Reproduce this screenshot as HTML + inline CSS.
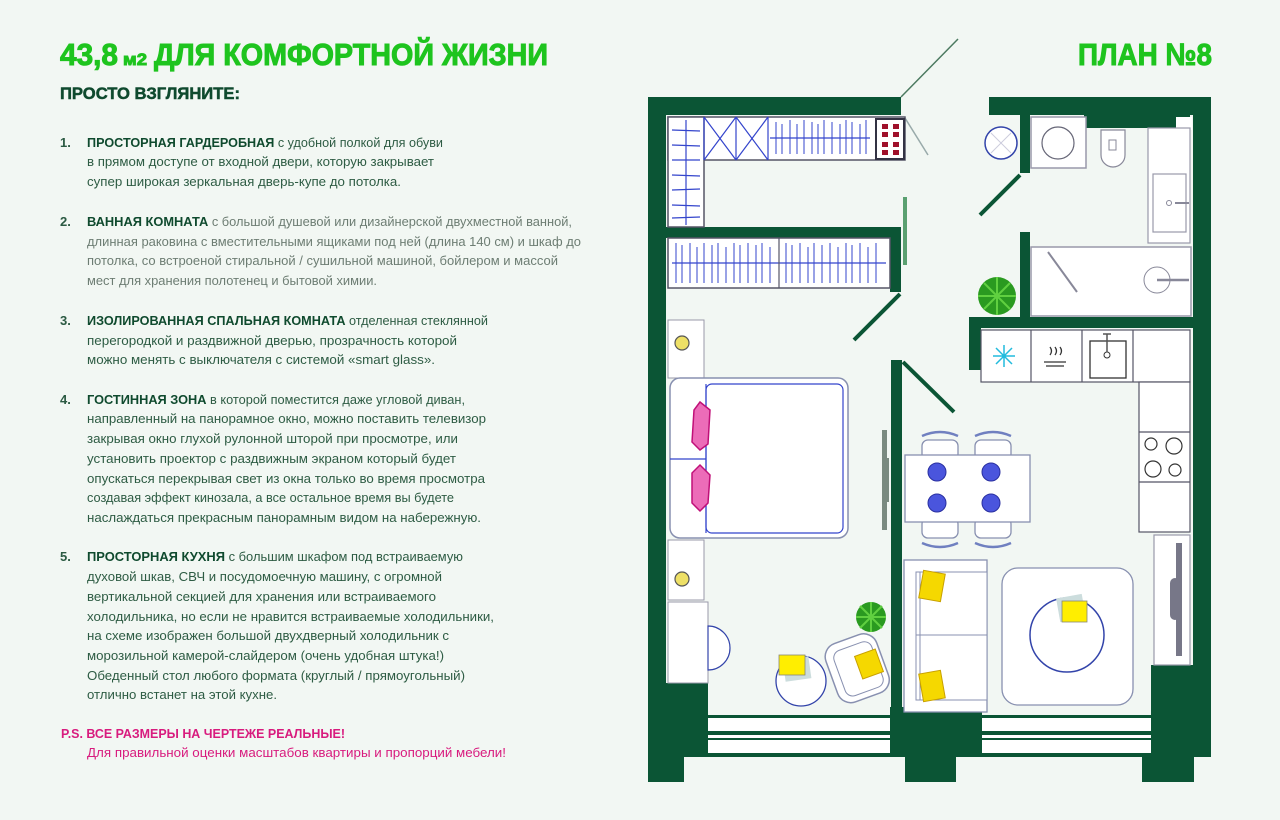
<!DOCTYPE html>
<html><head><meta charset="utf-8"><style>
html,body{margin:0;padding:0;background:#f2f7f3;}
svg{display:block}
</style></head><body>
<svg width="1280" height="820" viewBox="0 0 1280 820" xmlns="http://www.w3.org/2000/svg" font-family="'Liberation Sans', sans-serif">
<rect width="1280" height="820" fill="#f2f7f3"/>
<!-- TEXT -->
<g font-weight="bold" fill="#1ec41e" stroke="#1ec41e" stroke-width="1">
<text x="60" y="65" font-size="31" textLength="58" lengthAdjust="spacingAndGlyphs">43,8</text>
<text x="123" y="65" font-size="17" textLength="24" lengthAdjust="spacingAndGlyphs">м2</text>
<text x="154" y="65" font-size="31" textLength="394" lengthAdjust="spacingAndGlyphs">ДЛЯ КОМФОРТНОЙ ЖИЗНИ</text>
<text x="1078" y="65" font-size="31" textLength="134" lengthAdjust="spacingAndGlyphs">ПЛАН №8</text>
</g>
<text x="60" y="99" font-size="17" font-weight="bold" fill="#0f4a2e" stroke="#0f4a2e" stroke-width="0.5" textLength="180" lengthAdjust="spacingAndGlyphs">ПРОСТО ВЗГЛЯНИТЕ:</text>
<g font-size="13" fill="#2b5a42" font-weight="bold">
<text x="60" y="147">1.</text><text x="60" y="226">2.</text><text x="60" y="325">3.</text><text x="60" y="404">4.</text><text x="60" y="561">5.</text>
</g>
<g font-size="13" fill="#2e5c44">
<text x="87" y="147" textLength="356" lengthAdjust="spacingAndGlyphs"><tspan font-weight="bold" fill="#0f4a2e">ПРОСТОРНАЯ ГАРДЕРОБНАЯ</tspan> с удобной полкой для обуви</text>
<text x="87" y="166" textLength="347" lengthAdjust="spacingAndGlyphs">в прямом доступе от входной двери, которую закрывает</text>
<text x="87" y="186" textLength="314" lengthAdjust="spacingAndGlyphs">супер широкая зеркальная дверь-купе до потолка.</text>
</g>
<g font-size="13" fill="#6d7d73">
<text x="87" y="226" textLength="485" lengthAdjust="spacingAndGlyphs"><tspan font-weight="bold" fill="#0f4a2e">ВАННАЯ КОМНАТА</tspan> с большой душевой или дизайнерской двухместной ванной,</text>
<text x="87" y="246" textLength="494" lengthAdjust="spacingAndGlyphs">длинная раковина с вместительными ящиками под ней (длина 140 см) и шкаф до</text>
<text x="87" y="265" textLength="471" lengthAdjust="spacingAndGlyphs">потолка, со встроеной стиральной / сушильной машиной, бойлером и массой</text>
<text x="87" y="285" textLength="290" lengthAdjust="spacingAndGlyphs">мест для хранения полотенец и бытовой химии.</text>
</g>
<g font-size="13" fill="#2e5c44">
<text x="87" y="325" textLength="401" lengthAdjust="spacingAndGlyphs"><tspan font-weight="bold" fill="#0f4a2e">ИЗОЛИРОВАННАЯ СПАЛЬНАЯ КОМНАТА</tspan> отделенная стеклянной</text>
<text x="87" y="345" textLength="370" lengthAdjust="spacingAndGlyphs">перегородкой и раздвижной дверью, прозрачность которой</text>
<text x="87" y="364" textLength="348" lengthAdjust="spacingAndGlyphs">можно менять с выключателя с системой «smart glass».</text>
<text x="87" y="404" textLength="378" lengthAdjust="spacingAndGlyphs"><tspan font-weight="bold" fill="#0f4a2e">ГОСТИННАЯ ЗОНА</tspan> в которой поместится даже угловой диван,</text>
<text x="87" y="423" textLength="399" lengthAdjust="spacingAndGlyphs">направленный на панорамное окно, можно поставить телевизор</text>
<text x="87" y="443" textLength="371" lengthAdjust="spacingAndGlyphs">закрывая окно глухой рулонной шторой при просмотре, или</text>
<text x="87" y="463" textLength="369" lengthAdjust="spacingAndGlyphs">установить проектор с раздвижным экраном который будет</text>
<text x="87" y="483" textLength="398" lengthAdjust="spacingAndGlyphs">опускаться перекрывая свет из окна только во время просмотра</text>
<text x="87" y="502" textLength="367" lengthAdjust="spacingAndGlyphs">создавая эффект кинозала, а все остальное время вы будете</text>
<text x="87" y="522" textLength="394" lengthAdjust="spacingAndGlyphs">наслаждаться прекрасным панорамным видом на набережную.</text>
<text x="87" y="561" textLength="376" lengthAdjust="spacingAndGlyphs"><tspan font-weight="bold" fill="#0f4a2e">ПРОСТОРНАЯ КУХНЯ</tspan> с большим шкафом под встраиваемую</text>
<text x="87" y="581" textLength="355" lengthAdjust="spacingAndGlyphs">духовой шкав, СВЧ и посудомоечную машину, с огромной</text>
<text x="87" y="601" textLength="349" lengthAdjust="spacingAndGlyphs">вертикальной секцией для хранения или встраиваемого</text>
<text x="87" y="621" textLength="407" lengthAdjust="spacingAndGlyphs">холодильника, но если не нравится встраиваемые холодильники,</text>
<text x="87" y="640" textLength="362" lengthAdjust="spacingAndGlyphs">на схеме изображен большой двухдверный холодильник с</text>
<text x="87" y="660" textLength="357" lengthAdjust="spacingAndGlyphs">морозильной камерой-слайдером (очень удобная штука!)</text>
<text x="87" y="680" textLength="378" lengthAdjust="spacingAndGlyphs">Обеденный стол любого формата (круглый / прямоугольный)</text>
<text x="87" y="699" textLength="190" lengthAdjust="spacingAndGlyphs">отлично встанет на этой кухне.</text>
</g>
<text x="61" y="738" font-size="13" font-weight="bold" fill="#d81b7e" textLength="284" lengthAdjust="spacingAndGlyphs">P.S. ВСЕ РАЗМЕРЫ НА ЧЕРТЕЖЕ РЕАЛЬНЫЕ!</text>
<text x="87" y="757" font-size="13" fill="#d81b7e" textLength="419" lengthAdjust="spacingAndGlyphs">Для правильной оценки масштабов квартиры и пропорций мебели!</text>

<!-- PLAN -->
<g fill="#0b5535">
<rect x="648" y="97" width="18" height="685"/>
<rect x="648" y="97" width="253" height="18"/>
<rect x="989" y="97" width="222" height="18"/>
<rect x="1084" y="97" width="106" height="31"/>
<rect x="1193" y="97" width="18" height="660"/>
<rect x="1020" y="97" width="10" height="76"/>
<rect x="1020" y="232" width="10" height="85"/>
<rect x="969" y="317" width="242" height="11"/>
<rect x="969" y="317" width="12" height="53"/>
<rect x="666" y="227" width="235" height="11"/>
<rect x="890" y="227" width="11" height="65"/>
<rect x="891" y="360" width="11" height="350"/>
<rect x="890" y="707" width="92" height="50"/>
<rect x="905" y="757" width="51" height="25"/>
<rect x="648" y="683" width="60" height="74"/>
<rect x="648" y="757" width="36" height="25"/>
<rect x="1151" y="665" width="60" height="92"/>
<rect x="1142" y="757" width="52" height="25"/>
<rect x="708" y="715" width="182" height="42"/>
<rect x="982" y="715" width="169" height="42"/>
</g>
<rect x="1176" y="117" width="16" height="13" fill="#fff"/>
<g fill="#fff">
<rect x="708" y="718" width="182" height="13"/><rect x="708" y="735" width="182" height="3"/><rect x="708" y="740" width="182" height="13"/>
<rect x="982" y="718" width="169" height="13"/><rect x="982" y="735" width="169" height="3"/><rect x="982" y="740" width="169" height="13"/>
</g>
<!-- doors -->
<g stroke="#0b5535" stroke-width="4">
<line x1="1020" y1="175" x2="980" y2="215"/>
<line x1="900" y1="294" x2="854" y2="340"/>
<line x1="903" y1="362" x2="954" y2="412"/>
</g>
<line x1="901" y1="97" x2="958" y2="39" stroke="#4c7a60" stroke-width="1.5"/>
<line x1="905" y1="118" x2="928" y2="155" stroke="#9aa" stroke-width="1.5"/>
<rect x="903" y="197" width="4" height="68" fill="#5aa070"/>
<!-- wardrobe -->
<g fill="#fff" stroke="#556" stroke-width="1.5">
<rect x="668" y="117" width="237" height="43"/>
<rect x="668" y="117" width="36" height="110"/>
<rect x="668" y="238" width="222" height="50"/>
</g>
<g stroke="#3344cc" stroke-width="1.2">
<line x1="704" y1="117" x2="704" y2="160"/><line x1="736" y1="117" x2="736" y2="160"/><line x1="768" y1="117" x2="768" y2="160"/>
<line x1="704" y1="117" x2="736" y2="160"/><line x1="736" y1="117" x2="704" y2="160"/>
<line x1="736" y1="117" x2="768" y2="160"/><line x1="768" y1="117" x2="736" y2="160"/>
<line x1="672" y1="130" x2="700" y2="131"/><line x1="672" y1="145" x2="700" y2="146"/><line x1="672" y1="160" x2="700" y2="160"/><line x1="672" y1="175" x2="700" y2="176"/><line x1="672" y1="190" x2="700" y2="189"/><line x1="672" y1="205" x2="700" y2="206"/><line x1="672" y1="218" x2="700" y2="217"/>
<line x1="686" y1="120" x2="686" y2="225"/>
<line x1="770" y1="138" x2="870" y2="138"/>
<line x1="672" y1="263" x2="886" y2="263"/>
<line x1="779" y1="238" x2="779" y2="288" stroke="#556"/>
</g>
<g stroke="#3344cc" stroke-width="1">
<path d="M776 122v32M782 124v30M790 120v34M797 124v30M804 120v34M812 122v32M818 124v30M824 120v34M832 122v32M840 124v30M846 120v34M852 122v32M860 124v30M866 120v34"/>
<path d="M676 243v40M682 245v38M690 243v40M697 247v36M704 243v40M712 245v38M718 243v40M726 247v36M734 243v40M740 245v38M748 243v40M756 245v38M762 243v40M770 247v36M786 243v40M792 245v38M800 243v40M808 247v36M814 243v40M822 245v38M830 243v40M838 247v36M846 243v40M852 245v38M860 243v40M868 247v36M876 243v40"/>
</g>
<rect x="876" y="119" width="28" height="40" fill="#fff" stroke="#334" stroke-width="2"/>
<g fill="#a0102a"><rect x="882" y="124" width="6" height="5"/><rect x="893" y="124" width="6" height="5"/><rect x="882" y="132" width="6" height="5"/><rect x="893" y="132" width="6" height="5"/><rect x="882" y="142" width="6" height="5"/><rect x="893" y="142" width="6" height="5"/><rect x="882" y="150" width="6" height="5"/><rect x="893" y="150" width="6" height="5"/></g>
<!-- bathroom -->
<circle cx="1001" cy="143" r="16" fill="#fff" stroke="#3344aa" stroke-width="1.5"/>
<path d="M991 133l20 20M1011 133l-20 20" stroke="#ccd" stroke-width="1"/>
<rect x="1031" y="117" width="55" height="51" fill="#fff" stroke="#99a" stroke-width="1.5"/>
<circle cx="1058" cy="143" r="16" fill="#fff" stroke="#667" stroke-width="1.2"/>
<path d="M1101 130h24v25a12 12 0 0 1 -24 0z" fill="#fff" stroke="#889" stroke-width="1.2"/>
<rect x="1109" y="140" width="7" height="10" fill="none" stroke="#889"/>
<rect x="1148" y="128" width="42" height="115" fill="#fff" stroke="#99a" stroke-width="1.2"/>
<rect x="1153" y="174" width="33" height="58" fill="#fff" stroke="#99a" stroke-width="1.2"/>
<circle cx="1169" cy="203" r="2.5" fill="none" stroke="#889"/><line x1="1175" y1="203" x2="1189" y2="203" stroke="#889" stroke-width="2"/>
<rect x="1031" y="247" width="160" height="69" fill="#fff" stroke="#99a" stroke-width="1.5"/>
<line x1="1048" y1="252" x2="1077" y2="292" stroke="#889" stroke-width="2"/>
<circle cx="1157" cy="280" r="13" fill="#fff" stroke="#889"/><line x1="1157" y1="280" x2="1189" y2="280" stroke="#889" stroke-width="2.5"/>
<g fill="#2a9a20"><circle cx="997" cy="296" r="19"/></g>
<g stroke="#60d040" stroke-width="2"><path d="M997 277v38M978 296h38M984 283l26 26M1010 283l-26 26"/></g>
<!-- kitchen -->
<rect x="981" y="330" width="209" height="52" fill="#fff" stroke="#556" stroke-width="1.2"/>
<path d="M1031 330v52M1082 330v52M1133 330v52" stroke="#556" stroke-width="1.2"/>
<path d="M993 356h22M1004 345v22M996 348l16 16M1012 348l-16 16" stroke="#22bbdd" stroke-width="1.5"/>
<path d="M1044 362h22M1046 366h18M1050 355q3-4 0-8M1055 355q3-4 0-8M1060 355q3-4 0-8" stroke="#333" stroke-width="1.3" fill="none"/>
<rect x="1090" y="341" width="36" height="37" fill="none" stroke="#333" stroke-width="1.3"/>
<circle cx="1107" cy="355" r="3" fill="none" stroke="#333"/><path d="M1107 334v18M1103 334h8" stroke="#555" stroke-width="1.5"/>
<rect x="1139" y="382" width="51" height="150" fill="#fff" stroke="#556" stroke-width="1.2"/>
<path d="M1139 432h51M1139 482h51" stroke="#556" stroke-width="1.2"/>
<g fill="none" stroke="#333" stroke-width="1.2"><circle cx="1151" cy="444" r="6"/><circle cx="1174" cy="446" r="8"/><circle cx="1153" cy="469" r="8"/><circle cx="1175" cy="470" r="6"/></g>
<rect x="1154" y="535" width="36" height="130" fill="#fff" stroke="#99a" stroke-width="1.2"/>
<rect x="1176" y="543" width="6" height="113" fill="#778"/>
<rect x="1170" y="578" width="10" height="42" rx="5" fill="#778"/>
<!-- bedroom -->
<rect x="668" y="320" width="36" height="58" fill="#fff" stroke="#99a"/>
<circle cx="682" cy="343" r="7" fill="#eee066" stroke="#555" stroke-width="1.2"/>
<rect x="668" y="540" width="36" height="60" fill="#fff" stroke="#99a"/>
<circle cx="682" cy="579" r="7" fill="#eee066" stroke="#555" stroke-width="1.2"/>
<rect x="668" y="602" width="40" height="81" fill="#fff" stroke="#99a"/>
<path d="M708 626a22 22 0 0 1 0 44z" fill="#fff" stroke="#3344aa" stroke-width="1.2"/>
<rect x="670" y="378" width="178" height="160" rx="10" fill="#fff" stroke="#8890b0" stroke-width="1.5"/>
<rect x="706" y="384" width="137" height="149" rx="6" fill="#fff" stroke="#3344cc" stroke-width="1.2"/>
<path d="M670 459h36M706 384v149" stroke="#3344cc" stroke-width="1.2"/>
<path d="M700 402l10 8-2 34-8 6-8-8 2-32z" fill="#ec6cb8" stroke="#c01078" stroke-width="1.5"/>
<path d="M700 465l10 10-2 28-8 8-8-8 0-30z" fill="#ec6cb8" stroke="#c01078" stroke-width="1.5"/>
<rect x="882" y="430" width="5" height="100" fill="#7a8a80"/>
<rect x="886" y="458" width="3" height="44" fill="#7a8a80"/>
<!-- armchair etc -->
<circle cx="801" cy="681" r="25" fill="#fff" stroke="#3344aa" stroke-width="1.3"/>
<rect x="784" y="658" width="26" height="22" fill="#cdd" transform="rotate(-8 797 669)"/>
<rect x="779" y="655" width="26" height="20" fill="#ffee00" stroke="#887" stroke-width="0.8"/>
<g transform="rotate(-20 855 668)"><rect x="830" y="638" width="54" height="62" rx="14" fill="#fff" stroke="#8890b0" stroke-width="1.5"/><rect x="838" y="646" width="40" height="48" rx="8" fill="#fff" stroke="#8890b0"/></g>
<rect x="858" y="652" width="22" height="24" fill="#f5d800" stroke="#c8a000" transform="rotate(-20 869 664)"/>
<circle cx="871" cy="617" r="15" fill="#2a9a20"/><path d="M871 602v30M856 617h30M860 606l22 22M882 606l-22 22" stroke="#60d040" stroke-width="2"/>
<!-- dining -->
<g fill="#fff" stroke="#8890b0" stroke-width="1.3">
<rect x="922" y="440" width="36" height="20" rx="6"/><rect x="975" y="440" width="36" height="20" rx="6"/>
<rect x="922" y="518" width="36" height="20" rx="6"/><rect x="975" y="518" width="36" height="20" rx="6"/>
<rect x="905" y="455" width="125" height="67"/>
</g>
<path d="M922 436q18-8 36 0M975 436q18-8 36 0M922 543q18 8 36 0M975 543q18 8 36 0" stroke="#7080c0" stroke-width="2.5" fill="none"/>
<g fill="#4a55dd" stroke="#2a30a0"><circle cx="937" cy="472" r="9"/><circle cx="991" cy="472" r="9"/><circle cx="937" cy="503" r="9"/><circle cx="991" cy="503" r="9"/></g>
<!-- sofa & rug -->
<rect x="904" y="560" width="83" height="152" fill="#fff" stroke="#8890b0" stroke-width="1.3"/>
<rect x="916" y="572" width="71" height="128" fill="#fff" stroke="#8890b0"/>
<path d="M920 572v128M916 635h71" stroke="#8890b0"/>
<rect x="921" y="572" width="22" height="28" fill="#f5d800" stroke="#c8a000" transform="rotate(10 932 586)"/>
<rect x="921" y="672" width="22" height="28" fill="#f5d800" stroke="#c8a000" transform="rotate(-10 932 686)"/>
<rect x="1002" y="568" width="131" height="137" rx="16" fill="#fff" stroke="#8890b0" stroke-width="1.3"/>
<circle cx="1067" cy="635" r="37" fill="#fff" stroke="#3344aa" stroke-width="1.5"/>
<rect x="1058" y="596" width="26" height="24" fill="#cdd" transform="rotate(-10 1071 608)"/>
<rect x="1062" y="601" width="25" height="21" fill="#ffee00" stroke="#887" stroke-width="0.8"/>
</svg>
</body></html>
